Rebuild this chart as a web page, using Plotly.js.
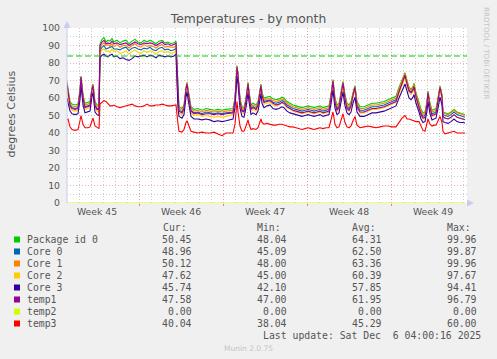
<!DOCTYPE html>
<html><head><meta charset="utf-8">
<script src="https://cdn.plot.ly/plotly-3.0.1.min.js"></script>
<style>html,body{margin:0;padding:0;background:#f0f0f0;}#chart{width:497px;height:359px;}</style>
</head><body><div id="chart"></div>
<script>
// hours since 2025-11-03 00:00
const hours = [0,2,6,10,16,22,26,28,32,36,42,46,50,52,56,60,64,
66,70,74,78,82,86,90,94,100,106,112,118,124,130,136,142,148,154,160,166,172,178,184,190,196,202,208,214,218,
222,224,230,234,238,240,244,248,254,262,270,278,286,294,302,310,318,326,332,336,338,340,342,346,350,354,358,360,362,364,368,372,378,382,386,388,390,394,
400,406,412,418,424,430,434,440,446,452,458,464,470,476,482,488,494,500,506,512,518,524,528,532,536,540,544,548,552,556,560,564,568,572,576,580,586,
594,602,610,618,626,634,642,650,658,664,670,676,680,684,688,692,694,698,704,708,712,716,720,722,726,730,734,738,742,746,750,752,756,762,768,774,780,786,792,796];

const packageId0 = [69.5,66,58,56.5,56,56.5,65,72.5,62,57,57.5,58,66,68,58,56,56,
91,93.5,94.5,92,93,92.5,94,92,93,91.5,92.5,93,91,92.5,93.5,92,91.5,93,92,93,92,91,92.5,93,91.5,92,91,91.5,92.5,
60,55,54,56,66,69,62,55,53.5,54,53,54,53.5,53,53.5,53,53.5,54,54,60,72,78.5,74,60,55,54.5,60,66,69,64,56,57,56,58,66,68,63,60,
60.5,61,59.5,59,59.5,60.5,60,58,57,56,55.5,55,54.5,55,55.5,55,54.5,55,55.5,54.5,55,55.5,62,70.5,60,56,57,64,69.5,62,57,56,58,63,67,58,55,
55,56,57,57,57.5,58,59,60,61,66,70,74.5,70,66,65,66.5,68.5,63,57.5,53.5,51.5,52,58,64,57,53,53.5,54,60,67,62,52,51.5,51,52,53.5,52,51.5,51,50.45];

const core0 = [67,63.5,56,54.5,54,54.5,63,71,60,55,55.5,56,64.5,66.5,56,54,54,
87,89,90,88,88.5,89,89.5,88,88,87.5,88.5,89,87,88.5,89,88,87.5,88.5,88,89,87.5,87,88.5,89,87.5,88,87,87.5,88.5,
58,53,52,54,64.5,67.5,60,53,51.5,52,51,52,51.5,51,51.5,51,51.5,52,52,58.5,70.5,77,72.5,58,53,52.5,58.5,64.5,67.5,62.5,54,55,54,56,64.5,66.5,61.5,58,
58.5,59,57.5,57,57.5,58.5,58,56,55,54,53.5,53,52.5,53,53.5,53,52.5,53,53.5,52.5,53,53.5,60.5,69,58,54,55,62.5,68,60,55,54,56,61.5,65.5,56,53,
53,54,55,55,55.5,56,57,58,59,64,68.5,73,68.5,64.5,63.5,65,67,61,55.5,51.5,49.5,50,56.5,62.5,55,51,51.5,52,58.5,65.5,60.5,50.5,50,49.5,50.5,52,50.5,50,49.5,48.96];

const core1 = [68.5,65,57,55.5,55,55.5,64,72,61,56,56.5,57,65.5,67.5,57,55,55,
88.5,90.5,91.5,90,90.5,89.5,91,89.5,90.5,89,90,90,88.5,90,91,89.5,89,90.5,89.5,90,89.5,88.5,90,90.5,89,89.5,89,89,90,
59,54,53,55,65.5,68.5,61,54,52.5,53,52,53,52.5,52,52.5,52,52.5,53,53,59.5,71.5,78,73.5,59,54,53.5,59.5,65.5,68.5,63.5,55,56,55,57,65.5,67.5,62.5,59,
59.5,60,58.5,58,58.5,59.5,59,57,56,55,54.5,54,53.5,54,54.5,54,53.5,54,54.5,53.5,54,54.5,61.5,70,59,55,56,63.5,69,61,56,55,57,62.5,66.5,57,54,
54,55,56,56,56.5,57,58,59,60,65,69.5,74,69.5,65.5,64.5,66,68,62,56.5,52.5,50.5,51,57.5,63.5,56,52,52.5,53,59.5,66.5,61.5,51.5,51,50.5,51.5,53,51.5,51,50.5,50.12];

const core2 = [64,61,54.5,53,52.5,53,61.5,70,58.5,53.5,54,54.5,63.5,65.5,54.5,52.5,52.5,
85.5,87.5,88,86.5,87,86,88,86.5,87,85.5,86,87,85,86.5,87.5,86,85.5,87,86,87,86.5,85,86.5,87,86,86.5,85.5,86,87,
57,51.5,50.5,53,63.5,66.5,59,51.5,50,50.5,49.5,50,49.5,49,49.5,49,49.5,50,50.5,57.5,69.5,76,71.5,57,51.5,51,57.5,63.5,66.5,61.5,52.5,53.5,52.5,55,63.5,65.5,60.5,56.5,
57,57.5,56,55.5,56,57,56.5,54.5,53.5,52.5,52,51.5,51,51.5,52,51.5,51,51.5,52,51,51.5,52,59.5,68,56.5,52.5,53.5,61.5,67,58.5,53.5,52.5,54.5,60.5,64.5,54.5,51.5,
51.5,52.5,53.5,53.5,54,54.5,55.5,56.5,57.5,62.5,67,71.5,67,63,62,63.5,65.5,59.5,54,50,48,48.5,55.5,61.5,53.5,49.5,50,50.5,57.5,64.5,59.5,49,48.5,48,49,50.5,49,48.5,48,47.62];

const core3 = [60,57,52.5,51,50.5,51,59,67.5,56,51.5,52,52.5,61,63,52,50.5,50,
83,84.5,85,84,83.5,84.5,85,83.5,84,82.5,83,82,81.5,82.5,84,83.5,84,84.5,83.5,84.5,84,83,84.5,84,83.5,84,83.5,84,85,
54,49.5,48.5,50.5,60.5,63.5,56,49.5,48,48,47.5,48,47.5,46.5,47,46.5,47,47.5,48,54.5,66,72.5,68,54,49.5,49,54.5,60.5,63,58,50.5,51.5,50.5,52.5,60.5,62.5,57,54.5,
55.5,56,54,53.5,54,55,54.5,52.5,51.5,51,50.5,50,49.5,50,50.5,50,49.5,50,50.5,49.5,50,50.5,56.5,64.5,54,50.5,51.5,58.5,63.5,55.5,51.5,50.5,52,57,60.5,52,49.5,
49.5,50.5,51.5,51.5,52,52.5,53.5,54.5,55.5,60,64,68,64,60,59,60.5,62,57,52,48,46,46.5,52.5,58,51,47.5,48,48.5,54,60.5,56,46.5,46,45.5,46.5,48,46.5,46,46,45.74];

const temp1 = [68,64,55.5,54,53.5,54,63.5,72,60,54.5,55,55.5,65,67,55.5,53.5,53.5,
90,92,93,91,91.5,91,92.5,91,91.5,90.5,91,91.5,90,91,92,91,90.5,91.5,91,91.5,91,90,91,92,90.5,91,90,90.5,91.5,
58,52.5,51.5,54,65,68,60,52.5,51,51.5,50.5,51,51,50.5,51,50.5,51,51.5,51.5,58.5,71,77.5,73,58,52.5,52,58.5,65,68,62.5,53.5,54.5,53.5,56,65,67,61.5,57.5,
58,58.5,57,56,56.5,57.5,57,55,54,53,52.5,52,51.5,52,52.5,52,51.5,52,52.5,51.5,52,52.5,60.5,69.5,57.5,53,54.5,62.5,68.5,59.5,54,53,55.5,61.5,66,55,52,
52,53,54,54,54.5,55,56,57,58,63.5,68.5,73,68,64,63,64.5,66.5,60.5,54.5,50.5,48.5,49,56.5,63,54.5,50,50.5,51,58.5,66,60.5,49.5,48.5,48,49,50.5,49,48.5,48,47.58];

const temp2Hours = [0,796];
const temp2 = [0,0];

const temp3 = [47.5,48,43.5,42,41.5,42,47,50,45,43,43,43.5,47,48.5,44,43,42.5,
56.5,57.5,58.5,58,56.5,55.5,55.5,56,55,54.5,55,55.5,56,56.5,55.5,55,55,55.5,56.5,55.5,55.5,56,56,56.5,56,55.5,55.5,56,56,
45,41,40.5,42,46,47,44,41,40.5,40,40.5,40,40,40.5,39.5,38.5,40,40,40,45,54,58,52,44,41,41,44,46.5,47.5,45,42,42.5,42,43,47,48,46,45,
45.5,45,44.5,44.5,45,45,44.5,44,43.5,43.5,43,42.5,42,42.5,43,42.5,42,42.5,43,42.5,43,43,47,52,45,43,43.5,48,51,46,43.5,43,44,47,49.5,44.5,43,
43.5,44,43.5,43,43.5,44,44,43.5,43.5,46,48.5,50,48,48,47.5,47,47,46.5,46.5,44,41.5,41,45,48,45,44,44.5,44.5,47,49.5,46,41,39.5,40,40.5,41,40,40,40,40.04];

const seriesNames = ['Package id 0','Core 0','Core 1','Core 2','Core 3','temp1','temp2','temp3'];
const seriesColors = ['#00CC00','#0066B3','#FF8000','#FFCC00','#330099','#990099','#CCFF00','#FF0000'];
const curVals = [50.45,48.96,50.12,47.62,45.74,47.58,0.00,40.04];
const minVals = [48.04,45.09,48.00,45.00,42.10,47.00,0.00,38.04];
const avgVals = [64.31,62.50,63.36,60.39,57.85,61.95,0.00,45.29];
const maxVals = [99.96,99.87,99.96,97.67,94.41,96.79,0.00,60.00];
const weekLabels = ['Week 45','Week 46','Week 47','Week 48','Week 49'];
const weekStarts = ['2025-11-02','2025-11-09','2025-11-16','2025-11-23','2025-11-30'];
const warningLevel = 84;
const lastUpdate = 'Last update: Sat Dec\u00a0\u00a06 04:00:16 2025';

const startMs = Date.UTC(2025,10,3,0,0,0);
const toDate = h => new Date(startMs + h*3600000).toISOString().slice(0,19).replace('T',' ');
const times = hours.map(toDate);
const weekMid = weekStarts.map(s => new Date(Date.parse(s+'T00:00:00Z') + 3.5*86400000).toISOString().slice(0,19).replace('T',' '));

const seriesData = [packageId0, core0, core1, core2, core3, temp1, temp2, temp3];
const traces = seriesData.map((ys, i) => ({
  type:'scatter', mode:'lines', name: seriesNames[i],
  x: (ys === temp2) ? temp2Hours.map(toDate) : times,
  y: ys,
  xaxis: (ys === temp2) ? 'x2' : 'x',
  line:{color: seriesColors[i], width:1.1},
  hoverinfo:'skip'
}));

const W = 400, H = 175, L = 67, T = 28;
const px = v => (v - L) / W;        // pixel x -> paper
const py = v => (T + H - v) / H;    // pixel y -> paper
const txt = '#555555';
const mono = 'DejaVu Sans Mono';

const annotations = [];
const shapes = [];
function ann(text, x, y, xanchor, opts) {
  annotations.push(Object.assign({text, x: px(x), y: py(y), xref:'paper', yref:'paper', xanchor, yanchor:'middle', showarrow:false, borderpad:0,
    font:{family:mono, size:9.8, color:txt}}, opts||{}));
}
const rowY0 = 239.5, rowStep = 12;
ann('Cur:', 162, 227.5, 'left');
ann('Min:', 256, 227.5, 'left');
ann('Avg:', 351, 227.5, 'left');
ann('Max:', 446, 227.5, 'left');
seriesNames.forEach((n, i) => {
  const cy = rowY0 + i*rowStep;
  ann(n, 26, cy, 'left');
  ann(curVals[i].toFixed(2), 193, cy, 'right');
  ann(minVals[i].toFixed(2), 288, cy, 'right');
  ann(avgVals[i].toFixed(2), 383, cy, 'right');
  ann(maxVals[i].toFixed(2), 478, cy, 'right');
  shapes.push({type:'rect', xref:'paper', yref:'paper', x0:px(14), x1:px(20), y0:py(cy+3), y1:py(cy-3), fillcolor:seriesColors[i], line:{width:0}});
});
ann(lastUpdate, 482, 335.5, 'right');
ann('Munin 2.0.75', 248, 348, 'center', {font:{family:'DejaVu Sans', size:7.5, color:'#C4C4C4'}});
ann('RRDTOOL / TOBI OETIKER', 487, 53, 'center', {textangle:90, font:{family:'DejaVu Sans', size:7.2, color:'#C4C4C4'}});
ann('degrees Celsius', 10.5, 114, 'center', {textangle:-90, font:{family:'DejaVu Sans', size:11, color:txt}});

// warning rule
shapes.push({type:'line', xref:'paper', yref:'y', x0:0, x1:1, y0:warningLevel, y1:warningLevel, line:{color:'#00CC00', width:1, dash:'6px,3px'}});
// axis line + arrows
const axisCol = '#C8CCF0';
shapes.push({type:'line', xref:'paper', yref:'paper', x0:0, x1:0, y0:0, y1:py(27), line:{color:axisCol, width:1}});
shapes.push({type:'path', xref:'paper', yref:'paper', path:`M ${px(63.5)} ${py(28)} L ${px(67)} ${py(21)} L ${px(70.5)} ${py(28)} Z`, fillcolor:axisCol, line:{width:0}});
shapes.push({type:'path', xref:'paper', yref:'paper', path:`M ${px(467)} ${py(199.5)} L ${px(474)} ${py(203)} L ${px(467)} ${py(206.5)} Z`, fillcolor:axisCol, line:{width:0}});

const gridGray = '#CDCDCD', gridRed = 'rgba(230,140,140,0.7)';
const layout = {
  width:497, height:359,
  paper_bgcolor:'#F0F0F0', plot_bgcolor:'#FFFFFF',
  margin:{l:67, r:30, t:28, b:156, pad:0},
  showlegend:false,
  title:{text:'Temperatures - by month', font:{family:'DejaVu Sans', size:12.3, color:txt}, xref:'container', x:0.5, xanchor:'center', yref:'container', y:1-19/359, yanchor:'middle'},
  xaxis:{type:'date', range:[toDate(0), toDate(800)], tickmode:'array', tickvals:weekMid, ticktext:weekLabels,
    showgrid:false, zeroline:false, showline:false, ticks:'', ticklabelstandoff:2,
    tickfont:{family:'DejaVu Sans', size:9.3, color:txt},
    minor:{tickmode:'linear', tick0:toDate(0), dtick:86400000, showgrid:true, gridcolor:gridGray, griddash:'1px,2px', gridwidth:1, ticks:''}},
  xaxis2:{type:'date', overlaying:'x', matches:'x', anchor:'y', side:'bottom', tickmode:'linear', tick0:'2025-11-09', dtick:604800000,
    showgrid:true, gridcolor:gridRed, griddash:'1px,2px', gridwidth:1, showticklabels:false, ticks:'outside', ticklen:2, tickcolor:'#E08080', zeroline:false, showline:false},
  yaxis:{range:[0,100], tickmode:'linear', tick0:0, dtick:10, showgrid:true, gridcolor:gridRed, griddash:'1px,2px', gridwidth:1,
    zeroline:false, showline:false, ticks:'', ticklabelstandoff:6,
    tickfont:{family:'DejaVu Sans', size:9.3, color:txt},
    minor:{tickmode:'linear', tick0:0, dtick:5, showgrid:true, gridcolor:gridGray, griddash:'1px,2px', gridwidth:1, ticks:''}},
  shapes, annotations
};
Plotly.newPlot('chart', traces, layout, {staticPlot:true, displayModeBar:false});
</script></body></html>
